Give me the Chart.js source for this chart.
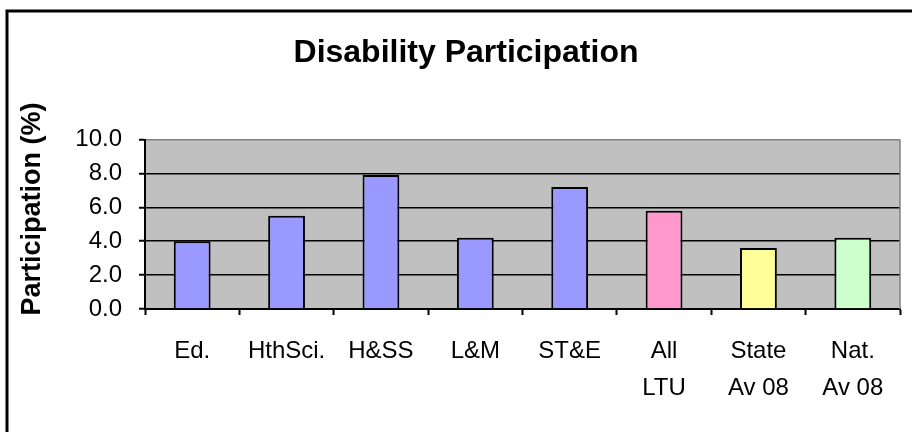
<!DOCTYPE html>
<html>
<head>
<meta charset="utf-8">
<title>Disability Participation</title>
<script src="https://cdn.jsdelivr.net/npm/chart.js@4/dist/chart.umd.min.js"></script>
<style>
    html, body { margin: 0; padding: 0; background: #ffffff; }
    #chart { display: block; }
</style>
</head>
<body>
<canvas id="chart" width="912" height="432"></canvas>
<script>
// Datos del grafico
var categories = ['Ed.', 'HthSci.', 'H&SS', 'L&M', 'ST&E', ['All', 'LTU'], ['State', 'Av 08'], ['Nat.', 'Av 08']];
var participation = [4.0, 5.5, 7.9, 4.2, 7.2, 5.8, 3.6, 4.2];
var barColors = ['#9999FF', '#9999FF', '#9999FF', '#9999FF', '#9999FF', '#FF99CC', '#FFFF99', '#CCFFCC'];
var yTicks = [0, 2, 4, 6, 8, 10];

var chartTitle = 'Disability Participation';
var yTitle = 'Participation (%)';

var FONT = "'Liberation Sans', Arial, sans-serif";

/**
 * Fondo gris, marco exterior y titulos
 */
var plotFrame = {
    id: 'plotFrame',
    beforeDraw: function(chart) {
        var ctx = chart.ctx;
        var a = chart.chartArea;
        ctx.save();
        ctx.fillStyle = '#C0C0C0';
        ctx.fillRect(a.left, a.top, a.right - a.left, a.bottom - a.top);
        ctx.restore();
    },
    beforeDatasetsDraw: function(chart) {
        var ctx = chart.ctx;
        var a = chart.chartArea;
        ctx.save();
        ctx.strokeStyle = '#808080';
        ctx.lineWidth = 1.5;
        ctx.beginPath();
        ctx.moveTo(a.right, a.top);
        ctx.lineTo(a.right, a.bottom);
        ctx.stroke();
        ctx.restore();
    },
    afterDraw: function(chart) {
        var ctx = chart.ctx;
        ctx.save();
        // marco exterior (solo izquierda y arriba quedan visibles)
        ctx.strokeStyle = '#000000';
        ctx.lineWidth = 3;
        ctx.beginPath();
        ctx.moveTo(7, chart.height + 5);
        ctx.lineTo(7, 11);
        ctx.lineTo(chart.width + 5, 11);
        ctx.stroke();

        // titulo principal
        ctx.fillStyle = '#000000';
        ctx.font = 'bold 32px ' + FONT;
        ctx.textAlign = 'center';
        ctx.textBaseline = 'alphabetic';
        ctx.fillText(chartTitle, 466, 62);

        // titulo del eje Y
        ctx.translate(33, 209);
        ctx.rotate(-Math.PI / 2);
        ctx.font = 'bold 27px ' + FONT;
        ctx.textBaseline = 'middle';
        ctx.fillText(yTitle, 0, 0);
        ctx.restore();
    }
};

new Chart(document.getElementById('chart'), {
    type: 'bar',
    data: {
        labels: categories,
        datasets: [{
            label: 'Participation',
            data: participation,
            backgroundColor: barColors,
            borderColor: '#000000',
            borderWidth: 2,
            categoryPercentage: 1,
            barPercentage: 0.39
        }]
    },
    options: {
        responsive: false,
        animation: false,
        devicePixelRatio: 1,
        layout: {
            padding: { left: 0, right: 12, top: 139.5, bottom: 0 }
        },
        plugins: {
            legend: { display: false },
            tooltip: { enabled: false },
            title: { display: false }
        },
        scales: {
            x: {
                afterFit: function(scale) { scale.height = 123; },
                grid: {
                    offset: true,
                    drawOnChartArea: false,
                    drawTicks: true,
                    tickLength: 6,
                    tickWidth: 2,
                    tickColor: '#000000'
                },
                border: { color: '#000000', width: 2 },
                ticks: {
                    color: '#000000',
                    padding: 18,
                    maxRotation: 0,
                    autoSkip: false,
                    font: { family: FONT, size: 24, lineHeight: 1.54 }
                }
            },
            y: {
                min: 0,
                max: 10,
                afterFit: function(scale) { scale.width = 145; },
                afterBuildTicks: function(scale) {
                    scale.ticks = yTicks.map(function(v) { return { value: v }; });
                },
                grid: {
                    color: function(c) { return c.tick && c.tick.value === 10 ? '#808080' : '#000000'; },
                    lineWidth: 1.5,
                    drawTicks: true,
                    tickLength: 6,
                    tickWidth: 2,
                    tickColor: '#000000'
                },
                border: { color: '#000000', width: 2 },
                ticks: {
                    color: '#000000',
                    padding: 17,
                    font: { family: FONT, size: 24 },
                    callback: function(v) { return Number(v).toFixed(1); }
                }
            }
        }
    },
    plugins: [plotFrame]
});
</script>
</body>
</html>
